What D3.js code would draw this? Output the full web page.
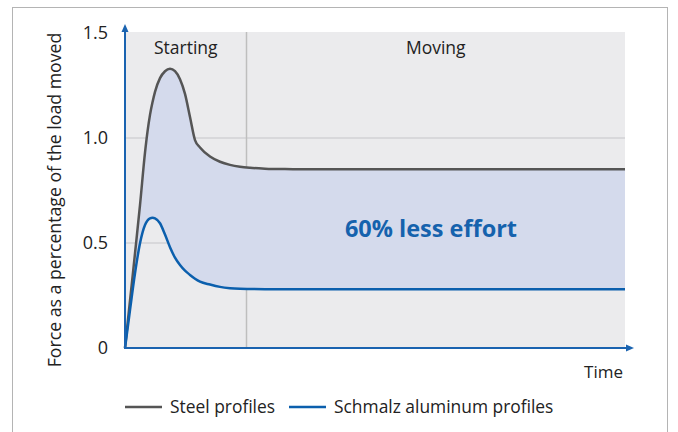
<!DOCTYPE html>
<html>
<head>
    <meta charset="utf-8">
    <script src="https://d3js.org/d3.v7.min.js"></script>
    <style>
        body { margin: 0; background: #fff; }
        svg text { font-family: "Open Sans", sans-serif; fill: #222; }
    </style>
</head>
<body>
<script>
    // dane
    var time  = [0, 1, 2, 3, 4, 4.5, 5, 5.5, 6, 7, 8, 9, 10, 11, 12, 13, 14, 15, 17, 19, 21, 23, 25, 28, 32, 40, 100];
    var steel = [0, 0.225, 0.45, 0.68, 0.93, 1.03, 1.11, 1.17, 1.22, 1.285, 1.318, 1.33, 1.318, 1.28, 1.21, 1.10, 0.99, 0.955, 0.912, 0.887, 0.872, 0.863, 0.858, 0.854, 0.852, 0.851, 0.851];
    var alu   = [0, 0.181, 0.356, 0.499, 0.586, 0.607, 0.617, 0.62, 0.617, 0.594, 0.54, 0.48, 0.43, 0.395, 0.368, 0.348, 0.33, 0.316, 0.302, 0.291, 0.285, 0.282, 0.281, 0.28, 0.28, 0.28, 0.28];
    var yTicks = [0, 0.5, 1.0, 1.5];
    var gridTicks = [0.5, 1.0];
    var phaseSplit = 24.3;
    var phases = [{label: "Starting", t: phaseSplit / 2}, {label: "Moving", t: (phaseSplit + 100) / 2}];
    var seriesNames = ["Steel profiles", "Schmalz aluminum profiles"];
    var seriesColors = ["#555555", "#0b5fad"];

    var width = 678, height = 432;
    var x = d3.scaleLinear().domain([0, 100]).range([125, 625]);
    var y = d3.scaleLinear().domain([0, 1.5]).range([348, 33]);

    var svg = d3.select("body").append("svg")
        .attr("width", width)
        .attr("height", height);

    // ramka
    svg.append("rect")
        .attr("x", 12.5).attr("y", 7.5)
        .attr("width", 655).attr("height", 440)
        .attr("fill", "none")
        .attr("stroke", "#b4b4b4");

    // tło wykresu
    svg.append("rect")
        .attr("x", x(0)).attr("y", y(1.5) - 1)
        .attr("width", x(100) - x(0)).attr("height", y(0) - y(1.5) + 1)
        .attr("fill", "#ebebed");

    // siatka
    svg.selectAll(".grid")
        .data(gridTicks)
      .enter().append("line")
        .attr("x1", x(0)).attr("x2", x(100))
        .attr("y1", function(d) { return y(d); })
        .attr("y2", function(d) { return y(d); })
        .attr("stroke", "#d2d2d4")
        .attr("stroke-width", 1.5);

    svg.append("line")
        .attr("x1", x(phaseSplit)).attr("x2", x(phaseSplit))
        .attr("y1", y(1.5) - 1).attr("y2", y(0))
        .attr("stroke", "#bebebe")
        .attr("stroke-width", 1.5);

    var data = time.map(function(t, i) { return {t: t, s: steel[i], a: alu[i]}; });

    // obszar między krzywymi
    var area = d3.area()
        .x(function(d) { return x(d.t); })
        .y0(function(d) { return y(d.a); })
        .y1(function(d) { return y(d.s); })
        .curve(d3.curveMonotoneX);

    svg.append("path")
        .datum(data)
        .attr("d", area)
        .attr("fill", "#d4daec");

    var lineSteel = d3.line()
        .x(function(d) { return x(d.t); })
        .y(function(d) { return y(d.s); })
        .curve(d3.curveMonotoneX);
    var lineAlu = d3.line()
        .x(function(d) { return x(d.t); })
        .y(function(d) { return y(d.a); })
        .curve(d3.curveMonotoneX);

    svg.append("path").datum(data).attr("d", lineSteel)
        .attr("fill", "none").attr("stroke", seriesColors[0]).attr("stroke-width", 2.5);
    svg.append("path").datum(data).attr("d", lineAlu)
        .attr("fill", "none").attr("stroke", seriesColors[1]).attr("stroke-width", 2.5);

    // osie ze strzałkami
    var axisColor = "#1a63b0";
    svg.append("line")
        .attr("x1", x(0)).attr("x2", x(0))
        .attr("y1", y(0) + 1).attr("y2", 30)
        .attr("stroke", axisColor).attr("stroke-width", 2);
    svg.append("path")
        .attr("d", "M" + x(0) + ",24 L" + (x(0) - 3.5) + ",32 L" + (x(0) + 3.5) + ",32 Z")
        .attr("fill", axisColor);
    svg.append("line")
        .attr("x1", x(0) - 1).attr("x2", 628)
        .attr("y1", y(0)).attr("y2", y(0))
        .attr("stroke", axisColor).attr("stroke-width", 2);
    svg.append("path")
        .attr("d", "M634," + y(0) + " L626," + (y(0) - 3.5) + " L626," + (y(0) + 3.5) + " Z")
        .attr("fill", axisColor);

    var yAxis = d3.axisLeft(y)
        .tickValues(yTicks)
        .tickSize(0)
        .tickPadding(17)
        .tickFormat(function(d) { return d === 0 ? "0" : d.toFixed(1); });

    var gy = svg.append("g")
        .attr("transform", "translate(" + x(0) + ",0)")
        .call(yAxis);
    gy.select(".domain").remove();
    gy.selectAll("text")
        .style("font-size", "18px")
        .style("font-family", "'Open Sans', sans-serif")
        .attr("fill", "#222");

    // tytuł osi Y
    svg.append("text")
        .attr("transform", "translate(61,200) rotate(-90)")
        .attr("text-anchor", "middle")
        .style("font-size", "17.7px")
        .text("Force as a percentage of the load moved");

    svg.append("text")
        .attr("x", 623).attr("y", 378)
        .attr("text-anchor", "end")
        .style("font-size", "17px")
        .text("Time");

    // etykiety faz
    svg.selectAll(".phase")
        .data(phases)
      .enter().append("text")
        .attr("x", function(d) { return x(d.t); })
        .attr("y", 54)
        .attr("text-anchor", "middle")
        .style("font-size", "17.5px")
        .text(function(d) { return d.label; });

    svg.append("text")
        .attr("x", 431).attr("y", 237)
        .attr("text-anchor", "middle")
        .style("font-size", "23.5px")
        .style("font-weight", "bold")
        .style("fill", "#1562ad")
        .text("60% less effort");

    // legenda
    var legendX = [125, 289];
    var legend = svg.selectAll(".legend")
        .data(seriesNames)
      .enter().append("g")
        .attr("transform", function(d, i) { return "translate(" + legendX[i] + ",407)"; });
    legend.append("line")
        .attr("x1", 0).attr("x2", 37)
        .attr("stroke", function(d, i) { return seriesColors[i]; })
        .attr("stroke-width", 2.5);
    legend.append("text")
        .attr("x", 45).attr("y", 6)
        .style("font-size", "17.4px")
        .text(function(d) { return d; });
</script>
</body>
</html>
